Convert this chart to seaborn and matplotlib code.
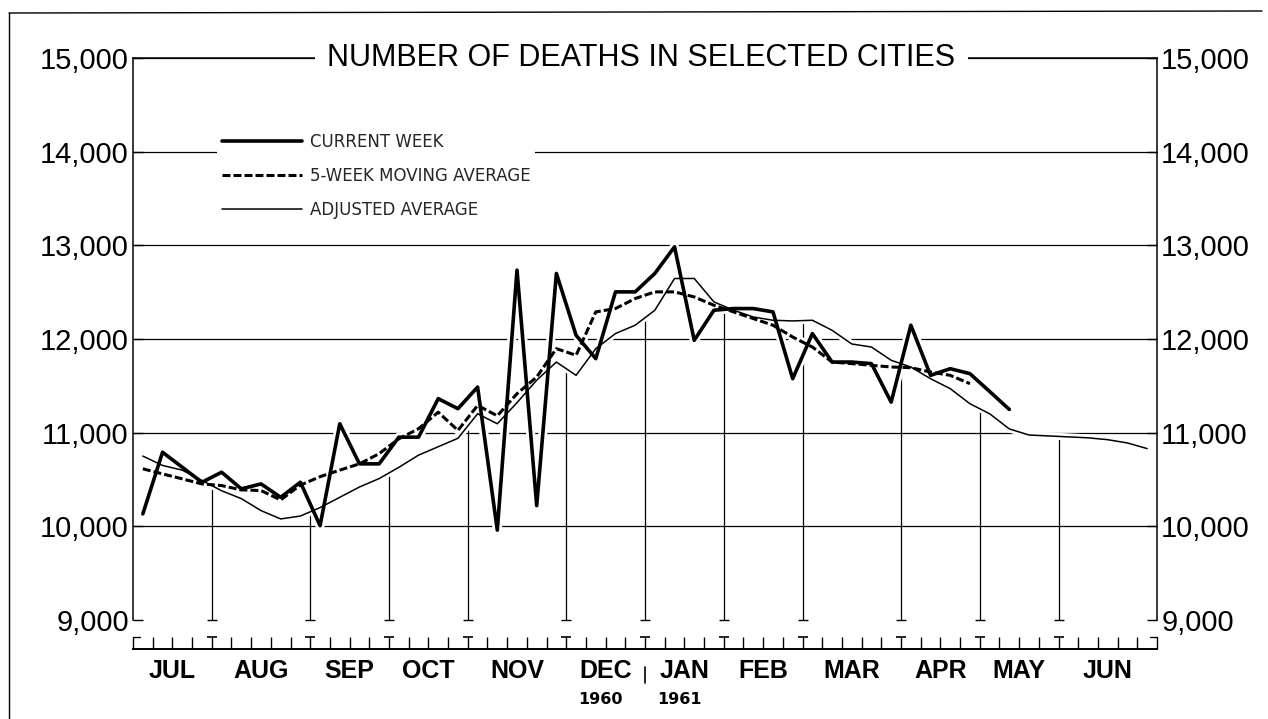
import numpy as np
import pandas as pd
import matplotlib
matplotlib.use("Agg")
import matplotlib.pyplot as plt
import seaborn as sns
from matplotlib.lines import Line2D

# ---------------- data ----------------
title = "NUMBER OF DEATHS IN SELECTED CITIES"
months = ["JUL", "AUG", "SEP", "OCT", "NOV", "DEC", "JAN", "FEB", "MAR", "APR", "MAY", "JUN"]
month_weeks = [4, 5, 4, 4, 5, 4, 4, 4, 5, 4, 4, 5]
years = ["1960", "1961"]
y_ticks = [9000, 10000, 11000, 12000, 13000, 14000, 15000]
y_tick_labels = ["9,000", "10,000", "11,000", "12,000", "13,000", "14,000", "15,000"]
legend_labels = ["CURRENT WEEK", "5-WEEK MOVING AVERAGE", "ADJUSTED AVERAGE"]

current_week = [10133, 10791, 10631, 10470, 10578, 10400, 10453, 10310, 10471, 10007,
                11095, 10667, 10667, 10952, 10952, 11363, 11256, 11487, 9960, 12735,
                10221, 12700, 12040, 11790, 12503, 12503, 12700, 12984, 11986, 12307,
                12325, 12325, 12289, 11576, 12058, 11754, 11754, 11737, 11326, 12147,
                11612, 11683, 11630, 11440, 11248]

moving_avg = [10614, 10560, 10507, 10453, 10435, 10389, 10382, 10282, 10440, 10530,
              10600, 10667, 10776, 10934, 11042, 11219, 11024, 11291, 11180, 11416,
              11594, 11897, 11826, 12289, 12325, 12432, 12503, 12503, 12449, 12360,
              12289, 12218, 12147, 12021, 11914, 11754, 11737, 11719, 11701, 11694,
              11647, 11612, 11523]

adjusted_avg = [10750, 10650, 10600, 10490, 10380, 10296, 10168, 10079, 10110, 10200,
                10310, 10420, 10510, 10630, 10760, 10850, 10940, 11202, 11095, 11320,
                11560, 11754, 11612, 11897, 12058, 12147, 12307, 12646, 12646, 12396,
                12307, 12235, 12200, 12193, 12200, 12093, 11947, 11914, 11773, 11701,
                11576, 11470, 11309, 11202, 11040, 10975, 10965, 10955, 10945, 10925,
                10890, 10830]

# ---------------- setup ----------------
sns.set_style("white")
plt.rcParams["font.family"] = ["Liberation Sans", "DejaVu Sans"]

W, H = 1268, 719
fig = plt.figure(figsize=(W / 100, H / 100), dpi=100)
fx = lambda px: px / W
fy = lambda py: 1 - py / H

ax = fig.add_axes([fx(133), fy(620), fx(1157) - fx(133), fy(58) - fy(620)])

n_weeks = sum(month_weeks)
ax.set_xlim(-0.5, n_weeks - 0.5)
ax.set_ylim(y_ticks[0], y_ticks[-1])

df_cur = pd.DataFrame({"week": np.arange(len(current_week)), "deaths": current_week})
df_ma = pd.DataFrame({"week": np.arange(len(moving_avg)), "deaths": moving_avg})
df_adj = pd.DataFrame({"week": np.arange(len(adjusted_avg)), "deaths": adjusted_avg})

# white halos (drafting style: grid broken around curves)
for d, lw in [(df_cur, 2.6), (df_ma, 2.2), (df_adj, 1.1)]:
    sns.lineplot(data=d, x="week", y="deaths", ax=ax, color="white",
                 linewidth=lw + 4, zorder=2, legend=False)

sns.lineplot(data=df_adj, x="week", y="deaths", ax=ax, color="black",
             linewidth=1.1, zorder=3, legend=False)
sns.lineplot(data=df_ma, x="week", y="deaths", ax=ax, color="black",
             linewidth=2.2, zorder=4, legend=False, dashes=False)
ax.lines[-1].set_dashes((2.6, 1.0))
sns.lineplot(data=df_cur, x="week", y="deaths", ax=ax, color="black",
             linewidth=2.6, zorder=5, legend=False)

# month boundaries and drop lines from the adjusted average
edges = np.cumsum(month_weeks) - 0.5
inner = edges[:-1]
tops = np.interp(inner, df_adj["week"], df_adj["deaths"])
ax.vlines(inner, y_ticks[0], tops, color="black", linewidth=0.9, zorder=1.8)
ax.plot(inner, np.full(len(inner), y_ticks[0]), ls="none", marker="_",
        ms=7, mew=1.0, color="black", clip_on=False, zorder=2)

# grid
ax.set_yticks(y_ticks)
ax.set_yticklabels(y_tick_labels)
ax.grid(axis="y", color="black", linewidth=0.9)
ax.grid(axis="x", visible=False)
ax.get_ygridlines()[0].set_visible(False)
ax.set_xticks([])
ax.set_xlabel("")
ax.set_ylabel("")
ax.tick_params(axis="y", which="both", direction="in", length=7, width=1.0,
               left=True, right=True, labelleft=True, labelright=True,
               labelsize=21, pad=3, colors="black")
for s in ["left", "right", "top"]:
    ax.spines[s].set_visible(True)
    ax.spines[s].set_color("black")
    ax.spines[s].set_linewidth(1.1)
ax.spines["bottom"].set_visible(False)

# title sitting on the top border line
ax.text(0.4966, 1.0, title, transform=ax.transAxes, ha="center", va="center",
        fontsize=22, color="black", zorder=10,
        bbox=dict(boxstyle="square,pad=0.4", fc="white", ec="none"))

# legend
handles = [Line2D([], [], color="black", lw=2.6),
           Line2D([], [], color="black", lw=2.2, dashes=(2.6, 1.0)),
           Line2D([], [], color="black", lw=1.1)]
leg = ax.legend(handles, legend_labels, loc="upper left",
                bbox_to_anchor=(fx(217), fy(128)), bbox_transform=fig.transFigure,
                frameon=True, facecolor="white", edgecolor="none", framealpha=1,
                fancybox=False, handlelength=4.8, handletextpad=0.45,
                labelspacing=0.95, borderpad=0.3, borderaxespad=0,
                prop={"family": "DejaVu Sans", "size": 12})
leg.set_zorder(10)

# ---------------- bottom ruler ----------------
axr = fig.add_axes([fx(133), fy(649), fx(1157) - fx(133), 12 / H])
axr.set_xlim(-0.5, n_weeks - 0.5)
axr.set_ylim(0, 1)
axr.set_facecolor("none")
for s in ["left", "right", "top"]:
    axr.spines[s].set_visible(False)
axr.spines["bottom"].set_color("black")
axr.spines["bottom"].set_linewidth(1.4)
axr.set_yticks([])
axr.set_xticks(np.arange(-0.5, n_weeks, 1.0))
axr.set_xticklabels([])
axr.tick_params(axis="x", which="major", bottom=True, top=False, direction="in",
                length=8.6, width=1.0, colors="black")
axr.plot(inner, np.ones(len(inner)), ls="none", marker="_", ms=7, mew=1.2,
         color="black", clip_on=False)
axr.plot([edges[0] - month_weeks[0], edges[0] - month_weeks[0] + 0.35], [1, 1],
         color="black", lw=1.0, clip_on=False)
axr.plot([edges[-1] - 0.35, edges[-1]], [1, 1], color="black", lw=1.0, clip_on=False)

starts = np.concatenate([[-0.5], edges[:-1]])
centers = (starts + edges) / 2
for m, c in zip(months, centers):
    axr.annotate(m, xy=(c, 0), xycoords=("data", "axes fraction"),
                 xytext=(0, -7), textcoords="offset points",
                 ha="center", va="top", fontsize=18, fontweight="bold",
                 color="black")

jan = edges[months.index("DEC")]
axr.annotate(years[0], xy=(jan, 0), xycoords=("data", "axes fraction"),
             xytext=(-32, -31), textcoords="offset points", ha="center", va="top",
             fontsize=11.5, fontweight="bold", family="DejaVu Sans", color="black")
axr.annotate(years[1], xy=(jan, 0), xycoords=("data", "axes fraction"),
             xytext=(25, -31), textcoords="offset points", ha="center", va="top",
             fontsize=11.5, fontweight="bold", family="DejaVu Sans", color="black")
axr.plot([jan, jan], [-1.5, -2.85], color="black", lw=1.2, clip_on=False)

# page frame
fig.add_artist(Line2D([fx(9), fx(9)], [0, fy(13)], color="black", lw=1.0))
fig.add_artist(Line2D([fx(9), fx(1262)], [fy(13), fy(11)], color="black", lw=1.0))

fig.savefig("out.png", dpi=100, facecolor="white")
